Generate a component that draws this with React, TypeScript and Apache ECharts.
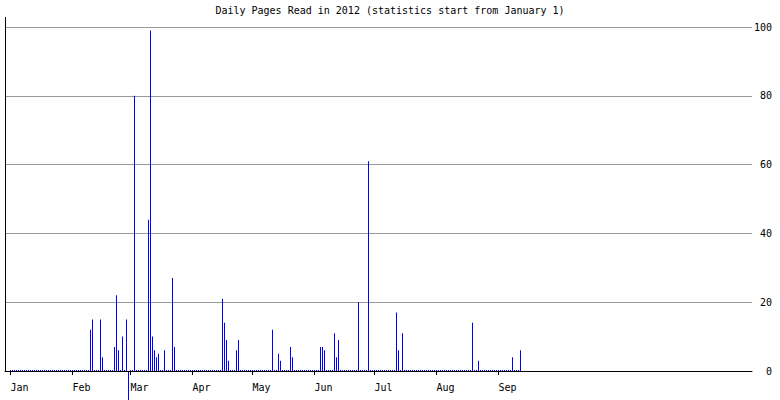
import React, { useEffect, useRef } from "react";
import * as echarts from "echarts";

// Days with recorded reading (all other tracked days are 0)
const readDates: string[] = [
  "2012-02-10", "2012-02-11", "2012-02-15", "2012-02-16", "2012-02-22", "2012-02-23",
  "2012-02-24", "2012-02-26", "2012-02-28", "2012-02-29",
  "2012-03-03", "2012-03-10", "2012-03-11", "2012-03-12", "2012-03-13", "2012-03-14",
  "2012-03-15", "2012-03-18", "2012-03-22", "2012-03-23",
  "2012-04-16", "2012-04-17", "2012-04-18", "2012-04-19", "2012-04-23", "2012-04-24",
  "2012-05-11", "2012-05-14", "2012-05-15", "2012-05-20", "2012-05-21",
  "2012-06-04", "2012-06-05", "2012-06-06", "2012-06-11", "2012-06-12", "2012-06-13",
  "2012-06-23", "2012-06-28",
  "2012-07-12", "2012-07-13", "2012-07-15",
  "2012-08-19", "2012-08-22",
  "2012-09-08", "2012-09-12",
];
const pagesRead: number[] = [
  12, 15, 15, 4, 7, 22,
  6, 10, 15, -10,
  80, 44, 99, 10, 6, 4,
  5, 6, 27, 7,
  21, 14, 9, 3, 6, 9,
  12, 5, 3, 7, 4,
  7, 7, 6, 11, 4, 9,
  20, 61,
  17, 6, 11,
  14, 3,
  4, 6,
];
const firstDate = "2012-01-01";
const lastTrackedDate = "2012-09-12";
const yearEndDate = "2012-12-31";
const monthStartDates: string[] = [
  "2012-01-01", "2012-02-01", "2012-03-01", "2012-04-01", "2012-05-01",
  "2012-06-01", "2012-07-01", "2012-08-01", "2012-09-01",
];
const monthLabels: string[] = ["Jan", "Feb", "Mar", "Apr", "May", "Jun", "Jul", "Aug", "Sep"];
const yTicks = { min: 0, max: 100, interval: 20 };
const titleText = "Daily Pages Read in 2012 (statistics start from January 1)";

const toDay = (s: string): number => {
  const [y, m, d] = s.split("-").map(Number);
  const [y0, m0, d0] = firstDate.split("-").map(Number);
  return Math.round((Date.UTC(y, m - 1, d) - Date.UTC(y0, m0 - 1, d0)) / 86400000);
};

const FONT = "DejaVu Sans Mono";

export default function App() {
  const ref = useRef<HTMLDivElement>(null);

  useEffect(() => {
    if (!ref.current) return;
    const chart = echarts.init(ref.current, null, { renderer: "svg" });

    const valueByDay = new Map<number, number>();
    readDates.forEach((d, i) => valueByDay.set(toDay(d), pagesRead[i]));
    const lastDay = toDay(lastTrackedDate);
    const yearEnd = toDay(yearEndDate);
    const daily: [number, number][] = [];
    for (let d = 0; d <= lastDay; d++) {
      daily.push([d, valueByDay.has(d) ? (valueByDay.get(d) as number) : 0]);
    }
    const monthStarts = monthStartDates.map(toDay);

    chart.setOption({
      animation: false,
      title: {
        text: titleText,
        left: "center",
        top: 0,
        textStyle: { fontFamily: FONT, fontSize: 10, fontWeight: "normal", color: "#000" },
      },
      grid: { left: 5, right: 28, top: 27, bottom: 29, containLabel: false, outerBoundsMode: "none" },
      graphic: [
        {
          type: "line",
          shape: { x1: 5.5, y1: 17, x2: 5.5, y2: 371 },
          style: { stroke: "#000", lineWidth: 1 },
          z: 10,
        },
      ],
      xAxis: {
        type: "value",
        min: -2.75,
        max: yearEnd + 5.75,
        z: 5,
        axisLine: { show: true, onZero: false, lineStyle: { color: "#000", width: 1 } },
        axisTick: {
          show: true,
          length: 4,
          customValues: monthStarts,
          lineStyle: { color: "#000" },
        },
        axisLabel: {
          customValues: monthStarts,
          formatter: (v: number) => {
            const i = monthStarts.indexOf(Math.round(v));
            return i >= 0 ? monthLabels[i] : "";
          },
          align: "left",
          margin: 11,
          fontFamily: FONT,
          fontSize: 10,
          color: "#000",
        },
        splitLine: { show: false },
      },
      yAxis: {
        type: "value",
        position: "right",
        min: yTicks.min,
        max: yTicks.max,
        interval: yTicks.interval,
        axisLine: { show: false },
        axisTick: { show: false },
        axisLabel: {
          align: "right",
          margin: 20,
          fontFamily: FONT,
          fontSize: 10,
          color: "#000",
        },
        splitLine: { show: true, lineStyle: { color: "#999", width: 1 } },
      },
      series: [
        {
          type: "bar",
          data: daily,
          barWidth: 1,
          barMinHeight: 1,
          clip: false,
          itemStyle: { color: "#0000ff" },
        },
      ],
    });

    return () => chart.dispose();
  }, []);

  return (
    <div
      ref={ref}
      style={{ position: "fixed", left: 0, top: 0, width: 780, height: 400, background: "#fff" }}
    />
  );
}
